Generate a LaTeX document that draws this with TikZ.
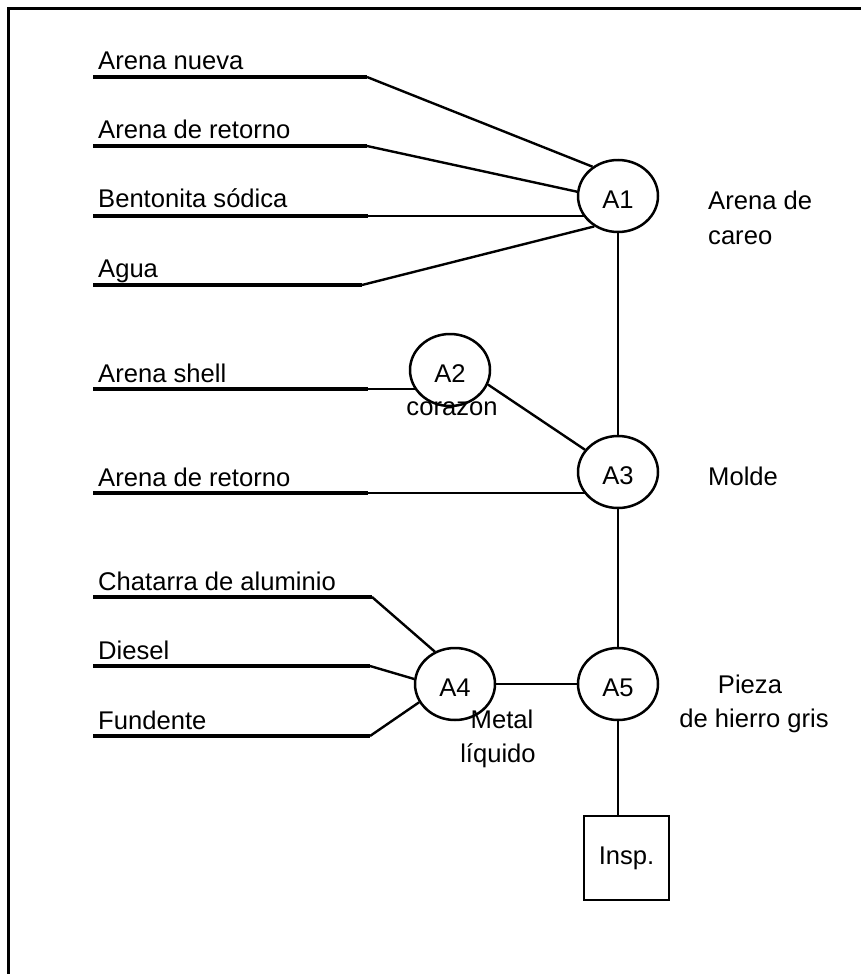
\documentclass[tikz,border=0pt]{standalone}
\usepackage{fontspec}
\setmainfont{Liberation Sans}
\usetikzlibrary{shapes.geometric,backgrounds}
% lower a label inside its node without changing the node size
\newcommand{\lowtext}[1]{\raisebox{-3.5pt}[\height][\depth]{#1}}
\begin{document}
\begin{tikzpicture}[x=1pt,y=-1pt,
  every node/.style={font=\fontsize{25.6}{30}\selectfont, inner sep=0pt},
  proc/.style={ellipse, draw, line width=2.5pt, fill=white,
               minimum width=80pt, minimum height=72pt},
  inspbox/.style={draw, line width=2.5pt, fill=white,
                  minimum width=85pt, minimum height=84pt},
  lbl/.style={anchor=base west},
  midlbl/.style={anchor=base},
  feed/.style={line width=3.5pt},
  link/.style={line width=2.4pt},
  frameline/.style={line width=3.5pt}]
\useasboundingbox (0,0) rectangle (861,974);

% frame (top and left edges)
\draw[frameline] (8.5,974) -- (8.5,8.5) -- (861,8.5);

% process nodes
\node[proc] (A1) at (618,196) {\lowtext{A1}};
\node[proc] (A2) at (450,370) {\lowtext{A2}};
\node[proc] (A3) at (618,472) {\lowtext{A3}};
\node[proc] (A4) at (455,684) {\lowtext{A4}};
\node[proc] (A5) at (618,684) {\lowtext{A5}};
\node[inspbox] (insp) at (626.5,858) {Insp.};

% input labels
\node[lbl] (t1) at (98,70)  {Arena nueva};
\node[lbl] (t2) at (98,138) {Arena de retorno};
\node[lbl] (t3) at (98,207) {Bentonita sódica};
\node[lbl] (t4) at (98,277) {Agua};
\node[lbl] (t5) at (98,382) {Arena shell};
\node[lbl] (t6) at (98,486) {Arena de retorno};
\node[lbl] (t7) at (98,590) {Chatarra de aluminio};
\node[lbl] (t8) at (98,659) {Diesel};
\node[lbl] (t9) at (98,729) {Fundente};

% output labels
\node[lbl] (o1a) at (708,209) {Arena de};
\node[lbl] (o1b) at (708,244) {careo};
\node[midlbl] (o2)  at (452,415) {corazon};
\node[lbl] (o3)  at (708,485) {Molde};
\node[midlbl] (o4a) at (502,728) {Metal};
\node[midlbl] (o4b) at (498,762) {líquido};
\node[midlbl] (o5a) at (750,693) {Pieza};
\node[midlbl] (o5b) at (754,727) {de hierro gris};

% feed line end points
\coordinate (f1s) at (93,77);  \coordinate (f1b) at (367,77);
\coordinate (f2s) at (93,146); \coordinate (f2b) at (367,146);
\coordinate (f3s) at (93,216); \coordinate (f3b) at (368,216); \coordinate (f3t) at (307,216);
\coordinate (f4s) at (93,285); \coordinate (f4b) at (362,285);
\coordinate (f5s) at (93,389); \coordinate (f5b) at (368,389);
\coordinate (f6s) at (93,493); \coordinate (f6b) at (368,493);
\coordinate (f7s) at (93,597); \coordinate (f7b) at (372,597);
\coordinate (f8s) at (93,666); \coordinate (f8b) at (370,666);
\coordinate (f9s) at (93,736); \coordinate (f9b) at (370,736);

\begin{scope}[on background layer]
  % underlines of the input labels
  \foreach \n in {1,...,9} \draw[feed] (f\n s) -- (f\n b);
  % inputs into A1
  \draw[link] (f1b) -- (A1.131);
  \draw[link] (f2b) -- (A1.174);
  \draw[link] (f3t) -- (f3t -| A1.center);
  \draw[link] (f4b) -- (A1.232);
  % inputs into A2 and A3
  \draw[link] (f5b) -- (f5b -| A2.center);
  \draw[link] (f6b) -- (f6b -| A3.center);
  % inputs into A4
  \draw[link] (f7b) -- (A4.122);
  \draw[link] (f8b) -- (A4.173);
  \draw[link] (f9b) -- (A4.207);
  % process chain
  \draw[link] (A1) -- (A3);
  \draw[link] (A2.339) -- (A3.146);
  \draw[link] (A3) -- (A5);
  \draw[link] (A4) -- (A5);
  \draw[link] (A5.center) -- (A5.center |- insp.north);
\end{scope}
\end{tikzpicture}
\end{document}
